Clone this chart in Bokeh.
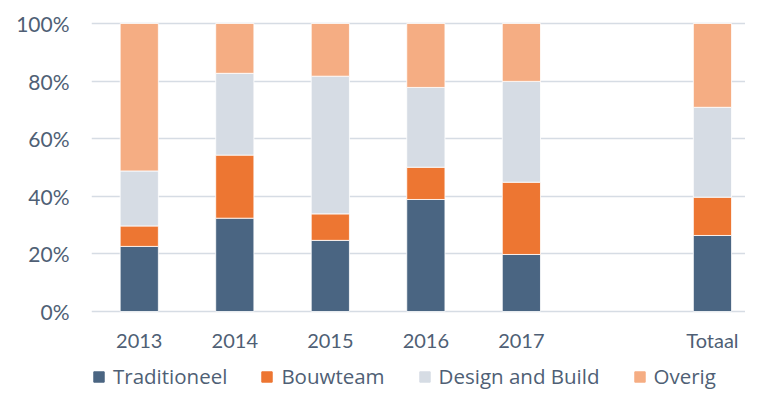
from bokeh.plotting import figure
from bokeh.layouts import column
from bokeh.models import ColumnDataSource, Range1d, FixedTicker, Legend, LegendItem, NumeralTickFormatter
from bokeh.embed import file_html
from bokeh.resources import INLINE

slots = ["2013", "2014", "2015", "2016", "2017", "", "Totaal"]
categories = ["2013", "2014", "2015", "2016", "2017", "Totaal"]
series = ["Traditioneel", "Bouwteam", "Design and Build", "Overig"]
traditioneel = [0.226, 0.324, 0.247, 0.389, 0.198, 0.264]
bouwteam = [0.071, 0.219, 0.092, 0.112, 0.251, 0.133]
design_build = [0.191, 0.284, 0.478, 0.277, 0.350, 0.312]
overig = [0.512, 0.173, 0.183, 0.222, 0.201, 0.291]
y_ticks = [0, 0.2, 0.4, 0.6, 0.8, 1.0]
colors = ["#4A6582", "#ED7632", "#D6DCE4", "#F5AD83"]

FONT = "Lato"
LEG_FONT = "Open Sans"
TXT = "#4F5F75"

src = ColumnDataSource(dict(
    x=[slots.index(c) for c in categories],
    Traditioneel=traditioneel,
    Bouwteam=bouwteam,
    **{"Design and Build": design_build},
    Overig=overig,
))

p = figure(width=745, height=358, output_backend="svg", toolbar_location=None,
           x_range=Range1d(-0.5, 6.346), y_range=Range1d(-0.0104, 1.0104),
           min_border_left=91, min_border_right=0, min_border_top=20, min_border_bottom=44)
p.outline_line_color = None

p.vbar_stack(series, x="x", width=0.4, source=src, color=colors,
             line_color="white", line_width=0.8)

p.xgrid.grid_line_color = None
p.ygrid.grid_line_color = "#D6DCE4"
p.ygrid.grid_line_width = 1.6
p.ygrid.ticker = FixedTicker(ticks=y_ticks)

p.yaxis.ticker = FixedTicker(ticks=y_ticks)
p.yaxis.formatter = NumeralTickFormatter(format="0%")
p.xaxis.ticker = FixedTicker(ticks=list(range(len(slots))))
p.xaxis.major_label_overrides = {i: s for i, s in enumerate(slots)}
for ax in (p.xaxis, p.yaxis):
    ax.axis_line_color = None
    ax.major_tick_line_color = None
    ax.minor_tick_line_color = None
    ax.major_tick_in = 0
    ax.major_tick_out = 0
    ax.minor_tick_in = 0
    ax.minor_tick_out = 0
    ax.major_label_text_font = FONT
    ax.major_label_text_font_size = "20px"
    ax.major_label_text_color = TXT
p.yaxis.major_label_text_font_size = "21px"
p.yaxis.major_label_standoff = 22
p.xaxis.major_label_standoff = 13

# legend strip (its renderers are hidden; only the legend keys are shown)
pl = figure(width=745, height=32, output_backend="svg", toolbar_location=None,
            x_axis_location=None, y_axis_location=None,
            x_range=Range1d(-0.5, 6.5), y_range=Range1d(0, 1),
            min_border_left=0, min_border_right=0, min_border_top=0, min_border_bottom=0)
pl.outline_line_color = None
pl.grid.visible = False
leg_renderers = pl.vbar_stack(series, x="x", width=0.4, source=src, color=colors)
for r in leg_renderers:
    r.visible = False
legend = Legend(items=[LegendItem(label=s, renderers=[r]) for s, r in zip(series, leg_renderers)],
                orientation="horizontal", location=(1, 0),
                label_text_font=LEG_FONT, label_text_font_size="20.5px", label_text_color=TXT,
                glyph_width=13, glyph_height=13, label_standoff=8, spacing=33,
                inactive_fill_alpha=0, click_policy="none",
                border_line_color=None, background_fill_alpha=0, padding=0, margin=0)
pl.add_layout(legend, "center")

layout = column(p, pl, spacing=0)
open("out.html", "w").write(file_html(layout, INLINE))
